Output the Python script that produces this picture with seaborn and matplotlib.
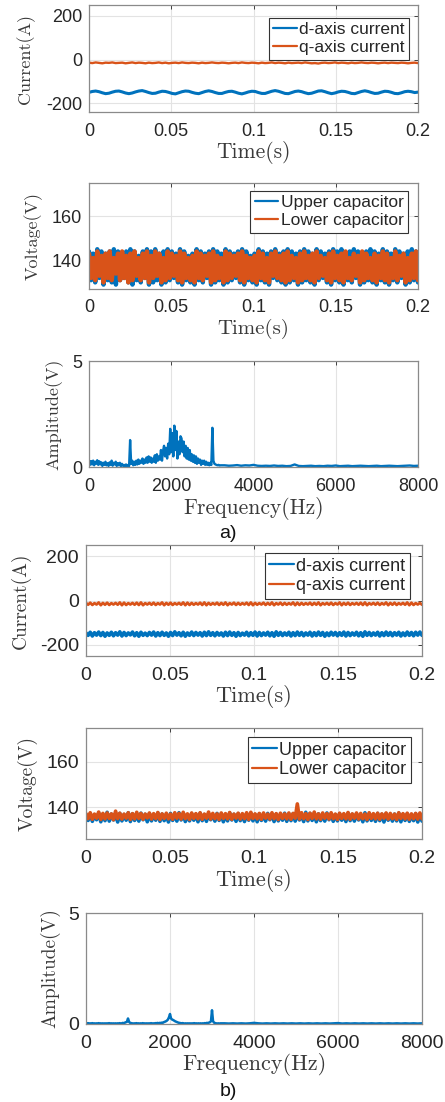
import numpy as np
import pandas as pd
import matplotlib
matplotlib.use("Agg")
import matplotlib.pyplot as plt
import seaborn as sns

# ---------------- data ----------------
time_ticks = [0, 0.05, 0.1, 0.15, 0.2]
time_tick_labels = ["0", "0.05", "0.1", "0.15", "0.2"]
freq_ticks = [0, 2000, 4000, 6000, 8000]
freq_tick_labels = ["0", "2000", "4000", "6000", "8000"]
current_ticks = [-200, 0, 200]
voltage_ticks = [140, 160]
amp_ticks = [0, 5]

# (a) dq currents
d_current_a = [-150,-146,-144,-147,-152,-156,-154,-149,-145,-144,-148,-153,-156,-153,-148,-144,-142,-146,-151,-155,
               -154,-149,-145,-146,-150,-155,-157,-152,-147,-144,-145,-150,-154,-156,-151,-146,-143,-146,-151,-155,
               -155,-150,-146,-145,-149,-154,-157,-153,-148,-145,-146,-151,-155,-155,-150,-145,-142,-145,-150,-155,
               -156,-151,-146,-144,-147,-152,-156,-154,-149,-144,-143,-147,-152,-156,-153,-148,-145,-146,-150,-155,
               -156,-151,-146,-143,-146,-151,-155,-154,-149,-145,-146,-150,-155,-156,-152,-147,-145,-147,-151,-149]
q_current_a = [-14,-16,-13,-15,-17,-14,-15,-13,-16,-15,-14,-17,-15,-13,-16,-14,-15,-17,-14,-16,
               -15,-13,-16,-14,-17,-15,-14,-16,-13,-15,-16,-14,-15,-17,-14,-16,-15,-13,-15,-16,
               -14,-15,-17,-15,-14,-16,-13,-15,-16,-14,-15,-17,-14,-16,-15,-13,-16,-14,-15,-17,
               -14,-16,-15,-14,-16,-13,-15,-17,-16,-18,-15,-14,-16,-15,-13,-16,-14,-15,-17,-14,
               -16,-15,-13,-15,-16,-14,-15,-17,-15,-14,-16,-14,-15,-16,-14,-15,-17,-15,-14,-16]

# (a) capacitor voltages: upper / lower peaks of the dense ripple
upper_cap_a_hi = [144,143,145,144,143,144,145,144,143,144,145,144,142,144,145,144,145,143,144,145,
                  144,143,145,144,142,143,145,144,143,144,145,144,143,145,144,143,144,145,144,142,
                  143,145,144,143,144,145,143,144,145,144,143,144,145,144,143,145,144,143,144,145,
                  144,145,143,144,145,144,143,144,145,144,143,145,144,143,145,144,143,144,145,144]
upper_cap_a_lo = [131,130,132,129,131,130,129,131,132,130,129,131,130,132,129,130,131,129,130,131,
                  132,130,129,131,130,129,131,130,132,129,130,131,129,130,131,132,130,129,131,130,
                  129,131,130,129,132,131,130,129,130,131,129,130,131,130,129,131,132,130,129,131,
                  130,129,131,130,132,129,130,131,130,129,131,130,129,131,130,132,129,130,131,130]
lower_cap_a_hi = [143,141,144,142,143,144,141,143,144,142,143,144,141,143,144,142,144,143,141,144,
                  143,142,144,143,141,142,144,143,142,143,144,142,141,144,143,142,143,144,142,141,
                  142,144,143,141,143,144,142,143,144,142,141,143,144,142,143,144,142,141,143,144,
                  142,143,144,141,143,142,144,143,141,143,142,144,143,141,144,142,143,141,143,144]
lower_cap_a_lo = [132,131,133,130,132,131,134,131,132,130,131,133,131,132,130,132,133,130,131,132,
                  133,131,130,132,131,130,132,131,133,130,131,132,130,131,132,133,131,130,132,131,
                  130,132,131,130,133,132,131,130,131,132,130,131,132,131,130,132,133,131,130,132,
                  131,130,132,131,133,130,131,132,131,130,132,131,130,132,131,133,130,131,132,131]

# spectra: 0-3200 Hz (25 Hz step) and 3300-8000 Hz (100 Hz step)
amp_low_a = [0.30,0.10,0.28,0.12,0.30,0.08,0.25,0.15,0.32,0.10,0.27,0.12,0.22,0.05,0.20,0.10,0.25,0.08,0.18,0.05,
             0.22,0.10,0.30,0.06,0.20,0.12,0.25,0.05,0.18,0.08,0.20,0.04,0.15,0.06,0.10,0.03,0.12,0.05,0.10,0.04,
             1.27,
             0.15,0.30,0.08,0.25,0.10,0.30,0.12,0.35,0.15,0.30,0.20,0.40,0.15,0.35,0.20,0.45,0.20,0.50,0.25,
             0.45,0.20,0.40,0.25,0.55,0.20,0.60,0.30,0.50,0.35,0.80,0.30,0.75,1.00,0.50,0.90,0.40,1.10,0.60,1.80,
             0.70,1.60,0.50,1.95,0.80,1.70,0.40,1.20,0.60,1.45,1.35,0.70,1.20,0.50,1.00,0.40,0.90,0.35,0.80,0.30,
             0.60,0.25,0.55,0.20,0.50,0.15,0.40,0.20,0.35,0.10,0.30,0.15,0.30,0.10,0.25,0.10,0.20,0.08,0.20,0.10,
             1.85,
             0.30,0.15,0.12,0.10,0.08,0.10,0.07,0.08]
amp_high_a = [0.08,0.06,0.07,0.09,0.06,0.08,0.07,0.10,0.06,0.05,0.06,0.05,0.07,0.05,0.06,0.04,0.05,0.12,0.05,0.04,
              0.05,0.06,0.04,0.05,0.04,0.06,0.05,0.07,0.04,0.05,0.06,0.04,0.05,0.06,0.05,0.04,0.05,0.06,0.04,0.05,
              0.06,0.05,0.04,0.05,0.06,0.07,0.05,0.06]

# (b) dq currents: upper / lower peaks of the ripple
d_current_b_hi = [-146,-143,-145,-142,-144,-146,-143,-145,-141,-144,-146,-142,-145,-143,-147,-144,-142,-145,-143,-146,
                  -144,-141,-145,-143,-146,-142,-144,-145,-143,-141,-145,-144,-146,-143,-142,-145,-144,-147,-143,-145,
                  -142,-144,-146,-143,-145,-141,-144,-146,-143,-145,-142,-144,-146,-143,-145,-142,-144,-146,-143,-144,
                  -145,-142,-144,-146,-143,-145,-141,-144,-146,-143,-145,-142,-144,-145,-143,-146,-142,-144,-143,-142]
d_current_b_lo = [-157,-160,-156,-158,-161,-157,-159,-156,-160,-158,-155,-159,-161,-157,-158,-156,-160,-158,-157,-161,
                  -158,-156,-159,-161,-157,-158,-156,-160,-158,-157,-159,-156,-160,-158,-157,-161,-158,-156,-159,-157,
                  -160,-158,-156,-159,-161,-157,-158,-156,-160,-158,-157,-159,-156,-160,-158,-157,-161,-158,-156,-159,
                  -157,-160,-158,-156,-159,-161,-157,-158,-156,-160,-158,-157,-159,-156,-160,-158,-157,-159,-156,-157]
q_current_b_hi = [-11,-10,-12,-9,-11,-10,-12,-11,-9,-10,-12,-11,-10,-9,-12,-11,-10,-12,-9,-11,
                  -10,-12,-11,-9,-10,-11,-12,-10,-9,-11,-12,-10,-11,-9,-12,-10,-11,-12,-10,-9,
                  -11,-12,-10,-11,-9,-12,-10,-11,-12,-9,-10,-11,-12,-10,-11,-9,-12,-11,-10,-12,
                  -9,-11,-10,-12,-11,-10,-9,-12,-11,-10,-12,-9,-11,-10,-12,-11,-9,-10,-12,-11]
q_current_b_lo = [-19,-20,-18,-21,-19,-20,-18,-19,-21,-20,-18,-19,-20,-21,-18,-19,-20,-18,-21,-19,
                  -20,-18,-19,-21,-20,-19,-18,-20,-21,-19,-18,-20,-19,-21,-18,-20,-19,-18,-20,-21,
                  -19,-18,-20,-19,-21,-18,-20,-19,-18,-21,-20,-19,-18,-20,-19,-21,-18,-19,-20,-18,
                  -21,-19,-20,-18,-19,-20,-21,-18,-19,-20,-18,-21,-19,-20,-18,-19,-21,-20,-18,-19]

# (b) capacitor voltages
upper_cap_b_hi = [136.8,137.2,136.5,137.5,136.9,137.8,137.0,136.6,137.3,136.8,137.6,137.1,136.7,137.4,136.9,137.2,136.6,137.5,137.0,136.8,
                  137.3,136.7,137.6,137.0,136.5,137.2,136.9,137.4,136.8,137.1,136.6,137.3,137.0,136.7,137.5,136.9,137.2,136.6,137.0,137.4,
                  136.8,137.1,136.5,137.3,136.9,137.0,136.7,137.4,136.8,137.2,137.0,136.6,137.8,137.3,136.9,137.1,136.7,137.5,137.0,136.8,
                  137.2,136.6,137.4,136.9,137.1,136.7,137.6,137.0,136.8,137.3,136.9,137.2,136.6,137.0,137.4,136.8,137.1,136.7,137.2,136.9]
upper_cap_b_lo = [134.2,133.8,134.5,133.6,134.1,133.9,134.4,133.5,134.0,134.3,133.7,134.2,133.9,134.5,133.6,134.0,134.3,133.8,134.1,133.5,
                  134.2,133.9,134.4,133.7,134.0,134.3,133.6,134.1,133.8,134.5,133.9,134.2,133.6,134.0,134.4,133.8,134.1,133.7,134.3,134.0,
                  133.6,134.2,133.9,134.5,133.7,134.0,134.3,133.8,134.1,133.9,134.4,133.7,134.0,134.2,133.6,134.1,133.9,134.5,133.8,134.0,
                  134.3,133.7,134.1,133.9,134.4,133.6,134.0,134.2,133.8,134.1,133.5,134.3,133.9,134.0,133.6,134.2,133.8,134.1,133.5,133.9]
lower_cap_b_hi = [137.2,137.6,137.0,137.9,137.3,137.5,137.1,138.3,137.4,137.0,137.6,137.2,137.8,137.3,137.0,137.5,137.2,137.7,137.1,137.4,
                  137.0,137.6,137.3,137.8,137.1,137.5,137.2,137.6,137.0,137.9,137.3,137.1,137.5,137.2,137.7,137.0,137.4,137.2,137.6,137.8,
                  137.1,137.3,137.5,137.0,137.6,137.2,137.4,137.1,137.5,137.3,141.5,137.6,137.2,137.4,137.9,137.1,137.5,137.2,137.6,137.0,
                  137.4,137.2,137.7,137.1,137.5,137.3,137.0,137.6,137.2,137.4,137.1,137.5,137.3,137.0,137.6,137.2,137.4,137.1,137.3,137.5]
lower_cap_b_lo = [135.0,134.7,135.2,134.6,134.9,135.1,134.5,135.0,134.8,135.2,134.6,134.9,135.1,134.7,135.3,134.8,135.0,134.6,135.1,134.9,
                  134.7,135.2,134.8,135.0,134.6,135.1,134.9,134.7,135.2,134.8,135.0,134.6,135.1,134.9,134.7,135.2,134.8,135.0,134.6,135.1,
                  134.9,134.7,135.2,134.8,135.0,134.6,135.1,134.9,134.7,135.2,134.8,135.0,134.6,135.1,134.9,134.7,135.2,134.8,135.0,134.6,
                  135.1,134.9,134.7,135.2,134.8,135.0,134.6,135.1,134.9,134.7,135.2,134.8,135.0,134.6,135.1,134.9,134.7,135.0,134.8,134.9]

amp_low_b = [0.05,0.02,0.04,0.02,0.03,0.02,0.04,0.02,0.03,0.01,0.03,0.02,0.04,0.02,0.03,0.02,0.03,0.01,0.03,0.02,
             0.03,0.02,0.04,0.02,0.03,0.02,0.03,0.01,0.03,0.02,0.03,0.02,0.04,0.02,0.03,0.05,0.03,0.06,0.08,0.10,
             0.25,
             0.10,0.05,0.04,0.03,0.02,0.03,0.02,0.04,0.02,0.03,0.02,0.03,0.02,0.04,0.02,0.03,0.02,0.03,0.02,
             0.03,0.02,0.04,0.02,0.03,0.02,0.04,0.03,0.05,0.03,0.05,0.04,0.06,0.05,0.08,0.10,0.12,0.15,0.20,0.30,
             0.45,0.25,0.20,0.18,0.15,0.12,0.10,0.08,0.06,0.05,0.04,0.03,0.04,0.03,0.02,0.03,0.02,0.03,0.02,0.03,
             0.02,0.03,0.02,0.04,0.02,0.03,0.02,0.03,0.02,0.03,0.02,0.03,0.02,0.04,0.03,0.05,0.04,0.06,0.08,0.12,
             0.62,
             0.12,0.06,0.04,0.03,0.02,0.03,0.02,0.03]
amp_high_b = [0.03,0.02,0.03,0.02,0.03,0.02,0.03,0.05,0.03,0.02,0.03,0.02,0.03,0.02,0.03,0.02,0.03,0.02,0.03,0.02,
              0.03,0.02,0.03,0.02,0.03,0.02,0.03,0.04,0.02,0.03,0.02,0.03,0.02,0.03,0.02,0.03,0.02,0.03,0.02,0.03,
              0.02,0.03,0.02,0.03,0.02,0.03,0.02,0.03]

# ---------------- helpers ----------------
def interleave(hi, lo):
    out = np.empty(2 * len(hi))
    out[0::2] = hi
    out[1::2] = lo
    return out

def time_axis(n):
    return np.linspace(0, 0.2, n)

freq = np.concatenate([np.arange(0, 3201, 25), np.arange(3300, 8001, 100)])

BLUE = "#0072BD"
ORANGE = "#D95319"
SPINE = "#8a8a8a"
TICKC = "#262626"
LABELC = "#3a3a3a"
GRIDC = "#e3e3e3"

sns.set_style("white")
plt.rcParams["axes.unicode_minus"] = False
plt.rcParams["font.family"] = ["Liberation Sans", "DejaVu Sans"]

W, H = 445, 1102
fig = plt.figure(figsize=(W / 100, H / 100), dpi=100)

def make_ax(l, r, top, bot):
    return fig.add_axes([l / W, 1 - bot / H, (r - l) / W, (bot - top) / H])

def style(ax, l, r, top, bot, xt, xtl, yt, xlab, ylab, ylab_x, xlab_off, tick_fs, lab_fs, ylab_fs, xpad=8):
    ax.set_xticks(xt)
    ax.set_xticklabels(xtl)
    ax.set_yticks(yt)
    ax.set_yticklabels([str(v) for v in yt])
    ax.tick_params(direction="in", length=3, width=0.6, colors=TICKC, labelsize=tick_fs,
                   top=True, right=True, pad=5)
    ax.tick_params(axis="x", pad=xpad)
    for s in ax.spines.values():
        s.set_color(SPINE)
        s.set_linewidth(0.9)
    ax.grid(True, color=GRIDC, linewidth=0.8)
    ax.set_axisbelow(True)
    ax.set_xlabel(xlab, fontfamily="cmr10", fontsize=lab_fs, color=LABELC)
    ax.set_ylabel(ylab, fontfamily="cmr10", fontsize=ylab_fs, color=LABELC)
    ax.xaxis.label.set_va("center")
    ax.yaxis.label.set_va("center")
    ax.xaxis.set_label_coords(0.5, -xlab_off / (bot - top))
    ax.yaxis.set_label_coords((ylab_x - l) / (r - l), 0.5)

def legend(ax, x_right, y_top, fs):
    leg = ax.legend(loc="upper right", bbox_to_anchor=(x_right / W, 1 - y_top / H),
                    bbox_transform=fig.transFigure, borderaxespad=0, fontsize=fs,
                    frameon=True, fancybox=False, framealpha=1, edgecolor="#333333",
                    handlelength=1.35, handletextpad=0.15, borderpad=0.25, labelspacing=0.15)
    leg.get_frame().set_linewidth(0.8)
    for line in leg.get_lines():
        line.set_linewidth(1.6)

def draw_line(ax, x, y, color, lw, label=None):
    df = pd.DataFrame({"x": x, "y": y})
    sns.lineplot(data=df, x="x", y="y", ax=ax, color=color, linewidth=lw,
                 label=label, estimator=None, sort=False)

# ---------------- (a) ----------------
# panel 1
l, r, t, b = 89, 418, 5, 112
ax = make_ax(l, r, t, b)
draw_line(ax, time_axis(len(d_current_a)), d_current_a, BLUE, 2.2, "d-axis current")
draw_line(ax, time_axis(len(q_current_a)), q_current_a, ORANGE, 1.7, "q-axis current")
ax.set_xlim(0, 0.2); ax.set_ylim(-240, 250)
style(ax, l, r, t, b, time_ticks, time_tick_labels, current_ticks, "Time(s)", "Current(A)", 26, 40, 13, 15.5, 13)
legend(ax, 409, 18, 12.5)

# panel 2
l, r, t, b = 89, 418, 183, 289
ax = make_ax(l, r, t, b)
up = interleave(upper_cap_a_hi, upper_cap_a_lo)
lo = interleave(lower_cap_a_hi, lower_cap_a_lo)
draw_line(ax, time_axis(len(up)), up, BLUE, 3.2, "Upper capacitor")
draw_line(ax, time_axis(len(lo)), lo, ORANGE, 3.2, "Lower capacitor")
ax.set_xlim(0, 0.2); ax.set_ylim(127, 175)
style(ax, l, r, t, b, time_ticks, time_tick_labels, voltage_ticks, "Time(s)", "Voltage(V)", 33, 40, 13, 15, 13, xpad=7)
legend(ax, 408, 191, 12.5)

# panel 3
l, r, t, b = 89, 418, 361, 467
ax = make_ax(l, r, t, b)
draw_line(ax, freq, amp_low_a + amp_high_a, BLUE, 1.7)
ax.set_xlim(0, 8000); ax.set_ylim(0, 5)
style(ax, l, r, t, b, freq_ticks, freq_tick_labels, amp_ticks, "Frequency(Hz)", "Amplitude(V)", 54, 41, 13, 15.5, 13)
fig.text(228 / W, 1 - 533 / H, "a)", ha="center", va="center", fontsize=14, color="#111111")

# ---------------- (b) ----------------
# panel 4
l, r, t, b = 86, 422, 545, 656
ax = make_ax(l, r, t, b)
dd = interleave(d_current_b_hi, d_current_b_lo)
qq = interleave(q_current_b_hi, q_current_b_lo)
draw_line(ax, time_axis(len(dd)), dd, BLUE, 2.6, "d-axis current")
draw_line(ax, time_axis(len(qq)), qq, ORANGE, 2.0, "q-axis current")
ax.set_xlim(0, 0.2); ax.set_ylim(-250, 250)
style(ax, l, r, t, b, time_ticks, time_tick_labels, current_ticks, "Time(s)", "Current(A)", 21, 41, 14, 16, 14)
legend(ax, 410, 553, 13)

# panel 5
l, r, t, b = 86, 422, 728, 839
ax = make_ax(l, r, t, b)
up = interleave(upper_cap_b_hi, upper_cap_b_lo)
lo = interleave(lower_cap_b_hi, lower_cap_b_lo)
draw_line(ax, time_axis(len(up)), up, BLUE, 2.6, "Upper capacitor")
draw_line(ax, time_axis(len(lo)), lo, ORANGE, 2.6, "Lower capacitor")
ax.set_xlim(0, 0.2); ax.set_ylim(126, 175)
style(ax, l, r, t, b, time_ticks, time_tick_labels, voltage_ticks, "Time(s)", "Voltage(V)", 28, 41, 14, 16, 14)
legend(ax, 411, 737, 13)

# panel 6
l, r, t, b = 86, 422, 913, 1024
ax = make_ax(l, r, t, b)
draw_line(ax, freq, amp_low_b + amp_high_b, BLUE, 1.8)
ax.set_xlim(0, 8000); ax.set_ylim(0, 5)
style(ax, l, r, t, b, freq_ticks, freq_tick_labels, amp_ticks, "Frequency(Hz)", "Amplitude(V)", 50, 41, 14, 16, 14)
fig.text(228 / W, 1 - 1092 / H, "b)", ha="center", va="center", fontsize=14, color="#111111")

fig.savefig("out.png", dpi=100)
